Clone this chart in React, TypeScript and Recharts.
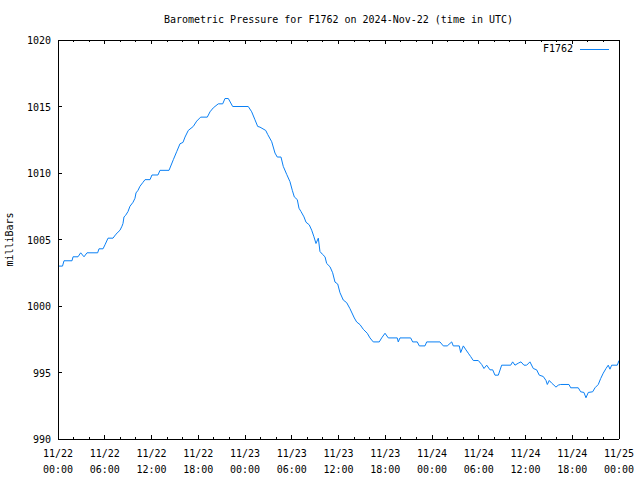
import { LineChart, Line, XAxis, YAxis } from "recharts"

// hours since 2024-11-22 00:00 UTC
const hours = [
  0.1, 0.58, 0.77, 1.8, 1.93, 2.57, 2.91, 3.34, 3.72, 5.09, 5.26, 5.78, 6.03, 6.42, 7.06, 7.44,
  7.96, 8.21, 8.34, 8.47, 8.66, 8.98, 9.24, 9.63, 9.88, 10.01, 10.27, 10.52, 10.91, 11.17, 11.81,
  12.06, 12.83, 13.09, 14.25, 14.8, 15.23, 15.66, 16.04, 16.3, 16.72, 17.36, 17.8, 18.31, 19.16,
  19.51, 19.93, 20.57, 21.14, 21.43, 21.86, 22.42, 24.42, 24.86, 25.28, 25.63, 25.92, 26.66,
  26.91, 27.43, 27.85, 28.14, 28.62, 28.91, 29.35, 29.77, 30.07, 30.33, 30.71, 30.93, 31.19,
  31.57, 31.83, 32.25, 32.56, 32.85, 33.11, 33.41, 33.62, 33.92, 34.27, 34.48, 34.91, 35.25,
  35.55, 35.9, 36.19, 36.61, 37.05, 37.47, 38.03, 38.33, 38.76, 39.18, 39.69, 40.04, 40.46,
  41.23, 41.54, 41.97, 42.39, 43.54, 43.67, 43.89, 45.26, 45.52, 46.11, 46.37, 47.1, 47.32,
  49.02, 49.45, 49.96, 50.53, 50.73, 51.5, 51.68, 52.02, 52.36, 52.66, 52.96, 53.3, 53.94,
  54.38, 54.67, 55.02, 55.44, 55.79, 56.08, 56.51, 56.94, 58.1, 58.35, 58.65, 59.07, 59.42,
  59.8, 60.15, 60.57, 61.0, 61.43, 61.77, 62.28, 62.63, 62.8, 63.05, 63.36, 63.65, 63.91,
  64.21, 64.51, 65.58, 65.8, 66.77, 67.08, 67.5, 67.76, 68.06, 68.62, 68.92, 69.34, 69.65,
  69.98, 70.33, 70.62, 70.84, 71.06, 71.78, 72.0,
]

// milliBars
const pressure = [
  1003.0, 1003.0, 1003.4, 1003.4, 1003.7, 1003.7, 1004.0, 1003.7, 1004.0, 1004.0, 1004.3,
  1004.3, 1004.6, 1005.1, 1005.1, 1005.4, 1005.7, 1006.0, 1006.2, 1006.7, 1006.8, 1007.1,
  1007.5, 1007.8, 1008.1, 1008.5, 1008.7, 1009.0, 1009.3, 1009.5, 1009.5, 1009.85, 1009.85,
  1010.2, 1010.2, 1011.0, 1011.6, 1012.2, 1012.3, 1012.7, 1013.2, 1013.5, 1013.9, 1014.2,
  1014.2, 1014.6, 1014.9, 1015.2, 1015.2, 1015.6, 1015.6, 1015.0, 1015.0, 1014.6, 1014.0,
  1013.5, 1013.45, 1013.2, 1012.9, 1012.35, 1011.5, 1011.2, 1011.2, 1010.5, 1009.9, 1009.35,
  1008.7, 1008.2, 1008.0, 1007.35, 1007.1, 1006.7, 1006.3, 1006.1, 1005.7, 1005.2, 1004.7,
  1005.1, 1004.1, 1003.9, 1003.7, 1003.2, 1002.95, 1002.5, 1001.8, 1001.65, 1001.0, 1000.45,
  1000.25, 999.8, 999.1, 998.8, 998.6, 998.25, 997.95, 997.6, 997.3, 997.3, 997.6, 997.95,
  997.6, 997.6, 997.3, 997.6, 997.6, 997.3, 997.3, 997.0, 997.0, 997.3, 997.3, 997.0, 997.0,
  997.3, 997.0, 997.0, 996.5, 997.0, 996.7, 996.45, 996.2, 995.9, 995.9, 995.6, 995.3,
  995.55, 995.2, 995.2, 994.8, 994.8, 995.55, 995.55, 995.8, 995.55, 995.7, 995.8, 995.55,
  995.55, 995.8, 995.3, 995.2, 994.8, 994.7, 994.4, 994.1, 994.4, 994.2, 994.05, 993.9,
  994.05, 994.1, 994.1, 993.85, 993.85, 993.55, 993.5, 993.1, 993.5, 993.55, 993.85, 994.1,
  994.55, 994.95, 995.3, 995.55, 995.25, 995.55, 995.55, 995.9,
]

const yTicks = [990, 995, 1000, 1005, 1010, 1015, 1020]
const xTicks = [
  0, 2, 4, 6, 8, 10, 12, 14, 16, 18, 20, 22, 24, 26, 28, 30, 32, 34, 36,
  38, 40, 42, 44, 46, 48, 50, 52, 54, 56, 58, 60, 62, 64, 66, 68, 70, 72,
]
const dayLabels = ["11/22", "11/23", "11/24", "11/25"]

const data = hours.map((h, i) => ({ h, p: pressure[i] }))

const FONT = "'DejaVu Sans Mono', monospace"
const BLUE = "#0a80f5"

const isMajor = (h: number) => h % 6 === 0

function BottomTick({ x, y, payload }: any) {
  const h = payload.value
  const len = isMajor(h) ? 4 : 2
  const day = dayLabels[Math.floor(h / 24)]
  const hh = String(h % 24).padStart(2, "0")
  return (
    <g>
      <line x1={x} y1={y} x2={x} y2={y - len} stroke="#000" shapeRendering="crispEdges" />
      {isMajor(h) && (
        <text x={x} y={y} textAnchor="middle" fontFamily={FONT} fontSize={10} fill="#000">
          <tspan x={x} dy={18}>{day}</tspan>
          <tspan x={x} dy={16}>{hh + ":00"}</tspan>
        </text>
      )}
    </g>
  )
}

function TopTick({ x, y, payload }: any) {
  const len = isMajor(payload.value) ? 4 : 2
  return <line x1={x} y1={y} x2={x} y2={y + len} stroke="#000" shapeRendering="crispEdges" />
}

function LeftTick({ x, y, payload }: any) {
  return (
    <g>
      <line x1={x} y1={y} x2={x + 4} y2={y} stroke="#000" shapeRendering="crispEdges" />
      <text x={x - 7} y={y + 4} textAnchor="end" fontFamily={FONT} fontSize={10} fill="#000">
        {payload.value}
      </text>
    </g>
  )
}

function RightTick({ x, y }: any) {
  return <line x1={x} y1={y} x2={x - 4} y2={y} stroke="#000" shapeRendering="crispEdges" />
}

export default function App() {
  const axisLine = { stroke: "#000", shapeRendering: "crispEdges" }
  return (
    <div style={{ position: "absolute", left: 0, top: 0, width: 640, height: 480, background: "#fff" }}>
      <div
        style={{
          position: "absolute", left: 58, top: 14, width: 561, textAlign: "center",
          fontFamily: FONT, fontSize: 10, lineHeight: "12px",
        }}
      >
        Barometric Pressure for F1762 on 2024-Nov-22 (time in UTC)
      </div>
      <div
        style={{
          position: "absolute", left: 543, top: 43, display: "flex", alignItems: "center",
          fontFamily: FONT, fontSize: 10, lineHeight: "12px",
        }}
      >
        <span>F1762</span>
        <span style={{ display: "inline-block", width: 29, height: 1, background: BLUE, marginLeft: 7 }} />
      </div>
      <LineChart width={640} height={480} data={data} margin={{ top: 39, right: 20, bottom: 0, left: 0 }}>
        <XAxis
          xAxisId="bottom" dataKey="h" type="number" domain={[0, 72]} ticks={xTicks}
          interval={0} height={41} tickSize={0} tickMargin={0} tickLine={false}
          axisLine={axisLine} tick={<BottomTick />}
        />
        <XAxis
          xAxisId="top" orientation="top" dataKey="h" type="number" domain={[0, 72]} ticks={xTicks}
          interval={0} height={1} tickSize={0} tickMargin={0} tickLine={false}
          axisLine={axisLine} tick={<TopTick />}
        />
        <YAxis
          yAxisId="left" type="number" domain={[990, 1020]} ticks={yTicks} interval={0}
          width={58} tickSize={0} tickMargin={0} tickLine={false} axisLine={axisLine}
          tick={<LeftTick />}
          label={{
            content: ({ viewBox }: any) => (
              <text
                x={viewBox.x + 13} y={viewBox.y + viewBox.height / 2}
                transform={`rotate(-90 ${viewBox.x + 13} ${viewBox.y + viewBox.height / 2})`}
                textAnchor="middle" fontFamily={FONT} fontSize={10} fill="#000"
              >
                milliBars
              </text>
            ),
          }}
        />
        <YAxis
          yAxisId="right" orientation="right" type="number" domain={[990, 1020]} ticks={yTicks}
          interval={0} width={1} tickSize={0} tickMargin={0} tickLine={false}
          axisLine={axisLine} tick={<RightTick />}
        />
        <Line
          xAxisId="bottom" yAxisId="left" type="linear" dataKey="p" name="F1762"
          stroke={BLUE} strokeWidth={1} dot={false} activeDot={false} isAnimationActive={false}
        />
      </LineChart>
    </div>
  )
}
